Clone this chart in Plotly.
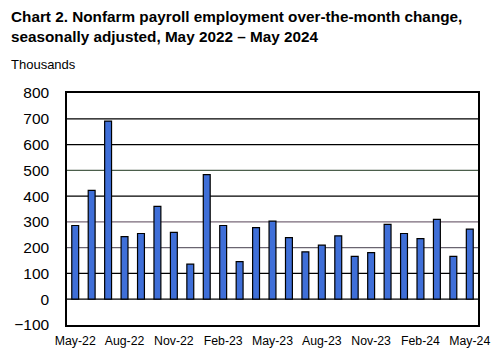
import plotly.graph_objects as go

months = ["May-22","Jun-22","Jul-22","Aug-22","Sep-22","Oct-22","Nov-22","Dec-22",
          "Jan-23","Feb-23","Mar-23","Apr-23","May-23","Jun-23","Jul-23","Aug-23",
          "Sep-23","Oct-23","Nov-23","Dec-23","Jan-24","Feb-24","Mar-24","Apr-24","May-24"]
change = [286, 422, 691, 243, 255, 360, 259, 136,
          483, 286, 146, 278, 303, 239, 184, 210,
          246, 166, 181, 290, 255, 235, 310, 166, 272]
tick_labels = ["May-22","Aug-22","Nov-22","Feb-23","May-23","Aug-23","Nov-23","Feb-24","May-24"]
y_ticks = [-100, 0, 100, 200, 300, 400, 500, 600, 700, 800]

grid_style = {200: "#6a6470", 300: "#786878", 500: "#4b5e4b"}

fig = go.Figure()
fig.add_trace(go.Bar(
    x=list(range(len(months))), y=change,
    width=0.42,
    marker=dict(color="#3F6FD8", line=dict(color="#000000", width=1.2)),
    hovertext=months,
))

tickvals = [months.index(t) for t in tick_labels]

PH = 232.0
PW = 411.0

shapes = []
for v in y_ticks:
    if v in (-100, 800):
        continue
    shapes.append(dict(type="line", xref="paper", yref="y", x0=0, x1=1, y0=v, y1=v,
                       line=dict(color=grid_style.get(v, "#000000"), width=1.3 if v in grid_style else 1.2),
                       layer="below"))

fig.update_layout(
    width=491, height=351,
    margin=dict(l=67, r=13, t=93, b=26),
    paper_bgcolor="white", plot_bgcolor="white",
    font=dict(family="Liberation Sans, Arial, sans-serif", color="#000000"),
    showlegend=False,
    shapes=shapes,
    xaxis=dict(
        range=[-0.5, len(months) - 0.5], automargin=False,
        tickmode="array", tickvals=tickvals, ticktext=tick_labels,
        showgrid=False, zeroline=False, ticks="",
        showline=True, linecolor="#000000", linewidth=1.5, mirror=True,
        tickfont=dict(size=12.3), ticklabelstandoff=3,
    ),
    yaxis=dict(
        range=[-100, 800], automargin=False,
        tickmode="array", tickvals=y_ticks,
        showgrid=False, zeroline=False,
        showline=True, linecolor="#000000", linewidth=1.5, mirror=True,
        ticks="", tickfont=dict(size=15.5), ticklabelstandoff=13,
    ),
    annotations=[
        dict(text="<b>Chart 2. Nonfarm payroll employment over-the-month change,<br>seasonally adjusted, May 2022 \u2013 May 2024</b>",
             xref="paper", yref="paper", x=-(67 - 9) / PW, y=1 + (93 - 6) / PH,
             xanchor="left", yanchor="top",
             align="left", showarrow=False, font=dict(size=15.3)),
        dict(text="Thousands", xref="paper", yref="paper", x=-(67 - 9) / PW, y=1 + (93 - 55) / PH,
             xanchor="left", yanchor="top", align="left", showarrow=False, font=dict(size=13)),
    ],
)

fig.write_html("out.html")
